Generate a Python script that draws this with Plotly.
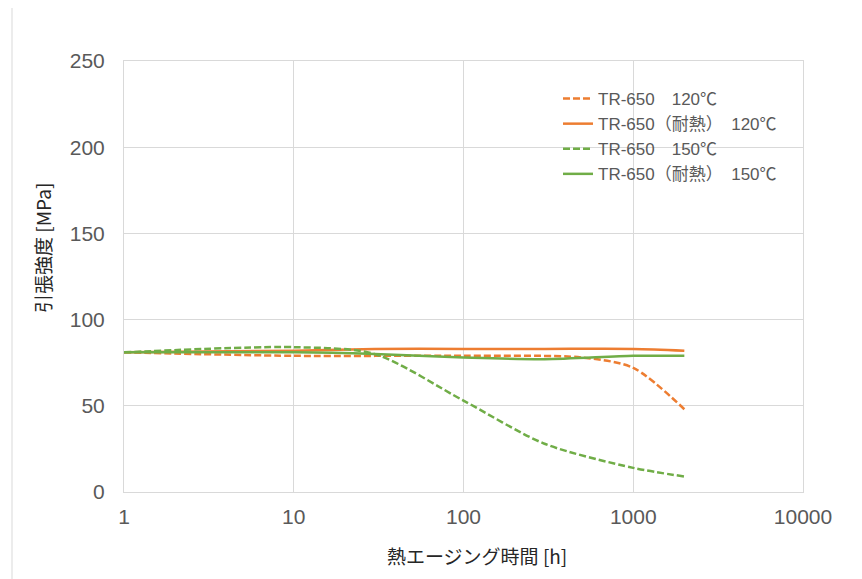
import plotly.graph_objects as go

hours_a = [1, 10, 100, 500, 1000, 2000]
tr650_120 = [81, 79, 79, 78, 72, 48]

hours_b = [1, 10, 30, 100, 300, 1000, 2000]
tr650h_120 = [81, 82, 83, 83, 83, 83, 82]

hours_c = [1, 10, 30, 100, 300, 1000, 2000]
tr650_150 = [81, 84, 80, 53, 28, 14, 9]

hours_d = [1, 10, 30, 100, 300, 1000, 2000]
tr650h_150 = [81, 81, 80, 78, 77, 79, 79]

names = ["TR-650\u3000120\u2103", "TR-650（耐熱）\u3000120\u2103",
         "TR-650\u3000150\u2103", "TR-650（耐熱）\u3000150\u2103"]

x_ticks = [1, 10, 100, 1000, 10000]
x_ticktext = ["1", "10", "100", "1000", "10000"]

ORANGE = "#ED7D31"
GREEN = "#70AD47"
FONT = "Liberation Sans, Arial, Noto Sans CJK JP, sans-serif"
JFONT = "Noto Sans CJK JP, sans-serif"

# page body has an 8px margin; plot area placed at screen px x 124..803, y 61..492
OFF = 8
W, H = 862 - OFF, 579 - OFF
L, T = 124 - OFF, 61 - OFF
PW, PH = 679, 431
R = W - L - PW
B = H - T - PH

def px_x(p):
    return (p - 124) / PW

def px_y(p):
    return (492 - p) / PH

fig = go.Figure()
series = [(hours_a, tr650_120, ORANGE, "7px,3px"),
          (hours_b, tr650h_120, ORANGE, "solid"),
          (hours_c, tr650_150, GREEN, "7px,3px"),
          (hours_d, tr650h_150, GREEN, "solid")]
for (x, y, c, d), n in zip(series, names):
    fig.add_trace(go.Scatter(x=x, y=y, mode="lines", name=n,
                             line=dict(color=c, width=2.5, dash=d, shape="spline", smoothing=0.8)))

fig.update_layout(
    width=W, height=H,
    margin=dict(l=L, r=R, t=T, b=B),
    paper_bgcolor="white", plot_bgcolor="white",
    font=dict(family=FONT, color="#595959", size=21),
    showlegend=True,
    legend=dict(x=px_x(558), y=px_y(81), xanchor="left", yanchor="top",
                bgcolor="rgba(0,0,0,0)", font=dict(size=17, color="#595959"),
                tracegroupgap=0),
    xaxis=dict(type="log", range=[0, 4], tickvals=x_ticks, ticktext=x_ticktext,
               showgrid=True, gridcolor="#D9D9D9", gridwidth=1,
               showline=True, linecolor="#D9D9D9", mirror=True,
               ticks="", zeroline=False, ticklabelstandoff=6),
    yaxis=dict(range=[0, 250], dtick=50, showgrid=True, gridcolor="#D9D9D9",
               showline=True, linecolor="#D9D9D9", mirror=True, ticks="",
               zeroline=False, ticklabelstandoff=14),
    annotations=[
        dict(text="熱エージング時間 [h]", xref="paper", yref="paper",
             x=px_x(477), y=px_y(555), xanchor="center", yanchor="middle",
             showarrow=False, font=dict(size=19, color="#262626", family=JFONT)),
        dict(text="引張強度 [MPa]", xref="paper", yref="paper",
             x=px_x(42), y=px_y(248), xanchor="center", yanchor="middle",
             textangle=-90, showarrow=False,
             font=dict(size=19, color="#262626", family=JFONT)),
    ],
    shapes=[dict(type="rect", xref="paper", yref="paper",
                 x0=px_x(12), x1=px_x(857), y0=px_y(600), y1=px_y(7),
                 line=dict(color="#D9D9D9", width=1), fillcolor="rgba(0,0,0,0)", layer="below")],
)

fig.write_html("out.html")
